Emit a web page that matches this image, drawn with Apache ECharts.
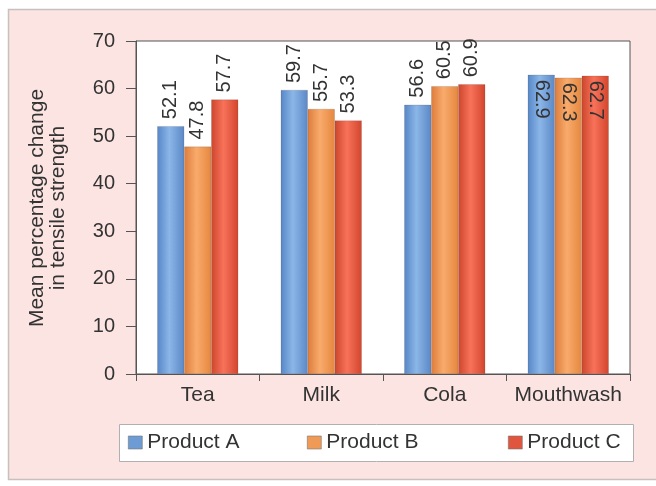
<!DOCTYPE html>
<html>
<head>
<meta charset="utf-8">
<script src="https://cdn.jsdelivr.net/npm/echarts@6/dist/echarts.min.js"></script>
<style>
  html, body { margin: 0; padding: 0; background: #ffffff; }
  #chart { width: 656px; height: 486px; }
</style>
</head>
<body>
<div id="chart"></div>
<script>
// Beverages tested and the three products
const categories = ['Tea', 'Milk', 'Cola', 'Mouthwash'];
const productA = [52.1, 59.7, 56.6, 62.9];
const productB = [47.8, 55.7, 60.5, 62.3];
const productC = [57.7, 53.3, 60.9, 62.7];
const seriesNames = ['Product A', 'Product B', 'Product C'];
const yTicks = { min: 0, max: 70, step: 10 };

// Horizontal shading that gives each bar a rounded, cylinder-like look
function shade(edgeL, mid, edgeR) {
  return new echarts.graphic.LinearGradient(0, 0, 1, 0, [
    { offset: 0, color: edgeL },
    { offset: 0.45, color: mid },
    { offset: 1, color: edgeR }
  ]);
}
const fills = [
  shade('#5686c6', '#8bb6e8', '#5b88c6'),
  shade('#dc7c3c', '#f9ab6c', '#e5873f'),
  shade('#cc462c', '#f8725a', '#d3452d')
];
const swatch = ['#6d9bd4', '#f09a58', '#e0553e'];

const font = 'Liberation Sans, Arial, sans-serif';

function barSeries(name, values, idx) {
  return {
    name: name,
    type: 'bar',
    data: values.map((v, i) => {
      const inside = categories[i] === 'Mouthwash';
      return {
        value: v,
        label: inside
          ? { position: 'insideTop', rotate: -90, align: 'left', verticalAlign: 'middle', distance: 5 }
          : { position: 'top', rotate: 90, align: 'left', verticalAlign: 'middle', distance: 7 }
      };
    }),
    barWidth: 27,
    barGap: '0%',
    itemStyle: { color: fills[idx], borderColor: 'rgba(80,60,60,0.35)', borderWidth: 0.5 },
    label: {
      show: true,
      color: '#333',
      fontSize: 20,
      fontFamily: font,
      formatter: p => p.value.toFixed(1)
    },
    z: 5
  };
}

const chart = echarts.init(document.getElementById('chart'), null, { renderer: 'canvas' });

const legendLeft = [128, 307, 508];
const legends = seriesNames.map((n, i) => ({
  data: [{ name: n, icon: 'rect', itemStyle: { color: swatch[i], borderColor: '#777', borderWidth: 0.6 } }],
  left: legendLeft[i],
  top: 432,
  itemWidth: 14,
  itemHeight: 13,
  padding: 0,
  selectedMode: false,
  textStyle: { fontSize: 21, color: '#333', fontFamily: font }
}));

chart.setOption({
  backgroundColor: '#ffffff',
  animation: false,
  graphic: [
    // outer panel
    { type: 'rect', z: -30, shape: { x: 8.5, y: 9.5, width: 660, height: 470 },
      style: { fill: '#fbe4e1', stroke: '#c8c0bf', lineWidth: 1.5 } },
    // legend box
    { type: 'rect', z: -20, shape: { x: 119.5, y: 424.5, width: 514, height: 37 },
      style: { fill: '#ffffff', stroke: '#b0b0b0', lineWidth: 1 } },
    // axis title
    { type: 'text', z: 10, x: 48, y: 208, rotation: Math.PI / 2,
      style: { text: 'Mean percentage change\nin tensile strength', fill: '#333',
        font: '21px ' + font, align: 'center', verticalAlign: 'middle', lineHeight: 21 } }
  ],
  legend: legends,
  grid: {
    left: 136, right: 26, top: 41, bottom: 112, containLabel: false,
    show: true, backgroundColor: '#ffffff', borderColor: '#555', borderWidth: 1
  },
  xAxis: {
    type: 'category',
    data: categories,
    boundaryGap: true,
    axisLine: { show: true, lineStyle: { color: '#555', width: 1 } },
    axisTick: { show: true, interval: 0, length: 7, inside: false, lineStyle: { color: '#555' } },
    axisLabel: { interval: 0, hideOverlap: false, fontSize: 21, color: '#333', fontFamily: font, margin: 11 }
  },
  yAxis: {
    type: 'value',
    min: yTicks.min,
    max: yTicks.max,
    interval: yTicks.step,
    splitLine: { show: false },
    axisLine: { show: true, lineStyle: { color: '#555', width: 1 } },
    axisTick: { show: true, length: 10, lineStyle: { color: '#555' } },
    axisLabel: { fontSize: 20, color: '#333', fontFamily: font, margin: 21 }
  },
  series: [
    barSeries(seriesNames[0], productA, 0),
    barSeries(seriesNames[1], productB, 1),
    barSeries(seriesNames[2], productC, 2)
  ]
});
</script>
</body>
</html>
